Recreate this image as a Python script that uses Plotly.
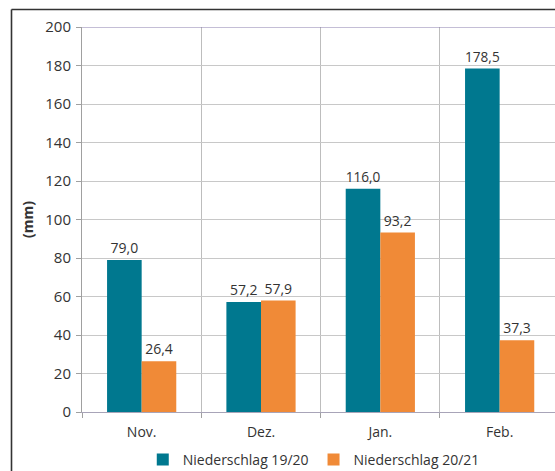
import plotly.graph_objects as go

months = ["Nov.", "Dez.", "Jan.", "Feb."]
niederschlag_19_20 = [79.0, 57.2, 116.0, 178.5]
niederschlag_20_21 = [26.4, 57.9, 93.2, 37.3]
y_ticks = [0, 20, 40, 60, 80, 100, 120, 140, 160, 180, 200]

TEAL = "#00788F"
ORANGE = "#F08A37"
TEXT = "#333333"
FONT = "Open Sans"

fig = go.Figure()
fig.add_trace(go.Bar(
    x=months, y=niederschlag_19_20, name="Niederschlag 19/20",
    marker=dict(color=TEAL, line=dict(width=0)),
    texttemplate="%{y:.1f}", textposition="outside", cliponaxis=False,
    textfont=dict(color=TEXT, size=14, family=FONT),
))
fig.add_trace(go.Bar(
    x=months, y=niederschlag_20_21, name="Niederschlag 20/21",
    marker=dict(color=ORANGE, line=dict(width=0)),
    texttemplate="%{y:.1f}", textposition="outside", cliponaxis=False,
    textfont=dict(color=TEXT, size=14, family=FONT),
))

W, H = 555, 471
L, R, T, B = 82, 0, 27, 59
cat_w = 119.33
x_hi = -0.5 + (W - L - R) / cat_w

fig.update_layout(
    width=W, height=H,
    margin=dict(l=L, r=R, t=T, b=B, pad=0, autoexpand=False),
    paper_bgcolor="white", plot_bgcolor="white",
    separators=",.",
    barmode="group", bargap=0.42, bargroupgap=0,
    font=dict(family=FONT, size=14, color=TEXT),
    showlegend=True,
    legend=dict(
        orientation="h", xref="paper", x=0.49, xanchor="center",
        yref="container", y=1 - 460 / H, yanchor="middle",
        font=dict(size=14, color=TEXT, family=FONT),
        bgcolor="rgba(0,0,0,0)",
    ),
    xaxis=dict(
        type="category", range=[-0.5, x_hi],
        tickson="boundaries", ticks="outside", ticklen=5, tickcolor="#A0A0A0",
        ticklabelstandoff=7,
        showgrid=True, gridcolor="#BDBDBD", gridwidth=1,
        showline=True, linecolor="#A8A4B8", linewidth=1,
        tickfont=dict(size=14, color=TEXT, family=FONT),
        fixedrange=True,
    ),
    yaxis=dict(
        range=[0, 200], tickvals=y_ticks,
        ticks="outside", ticklen=5, tickcolor="#A0A0A0",
        ticklabelstandoff=2,
        showgrid=True, gridcolor="#C8C8C8", gridwidth=1,
        showline=True, linecolor="#A0A0A0", linewidth=1,
        zeroline=False,
        tickfont=dict(size=15, color=TEXT, family=FONT),
        title=dict(text="<b>(mm)</b>", standoff=8,
                   font=dict(size=14, color=TEXT, family=FONT)),
        fixedrange=True,
    ),
)

# top border of plot area (purple line at the top value)
fig.add_shape(type="line", xref="paper", yref="y", x0=0, x1=1, y0=200, y1=200,
              line=dict(color="#8A7FAE", width=1.2))

# outer dark frame (left and top edges visible)
pw, ph = W - L - R, H - T - B
fx = (11.5 - L) / pw
fy = 1 + (T - 9.5) / ph
fig.add_shape(type="line", xref="paper", yref="paper", x0=fx, x1=fx, y0=fy, y1=-1,
              line=dict(color="#333333", width=1.6))
fig.add_shape(type="line", xref="paper", yref="paper", x0=fx, x1=1.2, y0=fy, y1=fy,
              line=dict(color="#333333", width=1.6))

fig.write_html("out.html", config=dict(displayModeBar=False))
